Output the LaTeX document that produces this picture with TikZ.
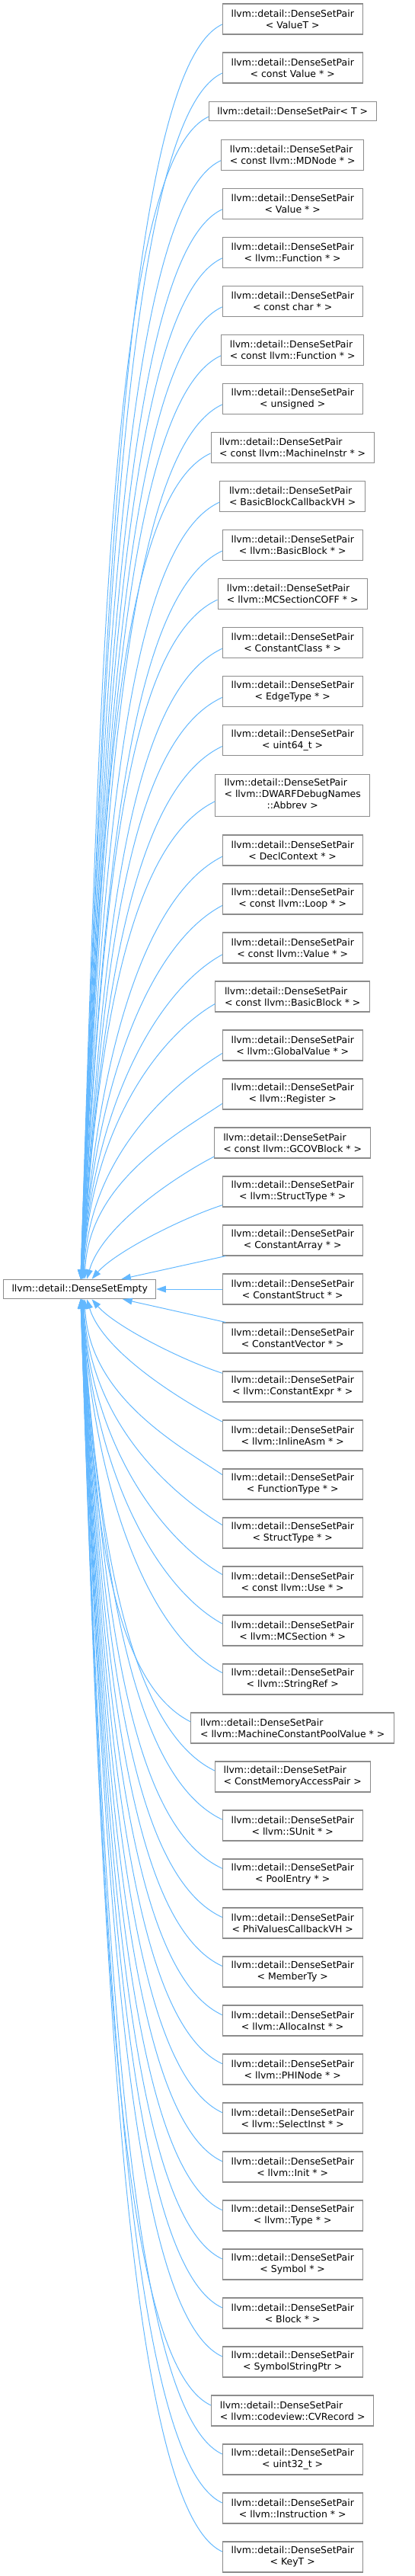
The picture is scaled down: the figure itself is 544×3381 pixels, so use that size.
\documentclass[tikz,border=0pt]{standalone}
\usepackage{fontspec}
\setmainfont{DejaVu Sans}
\usetikzlibrary{arrows.meta,calc}
\definecolor{edgeblue}{HTML}{63B8FF}
\definecolor{boxgray}{HTML}{8C8C8C}
\tikzset{
  box/.style={draw=boxgray, line width=1.1pt, fill=white, inner sep=0pt,
    minimum width=183.7pt, minimum height=40pt,
    font=\fontsize{12.47}{15}\selectfont},
  cls/.style={box, align=center},
  clsl/.style={box, align=left},
  edge/.style={draw=edgeblue, line width=1pt, -{Triangle[length=12.5pt,width=8.7pt]}},
}
\newcommand{\fanedge}[1]{%
  \pgfmathtruncatemacro{\dD}{abs(#1-27)}%
  \pgfmathtruncatemacro{\sG}{#1<27 ? 1 : -1}%
  \pgfmathsetmacro{\oF}{\dD==2 ? 17.7 : (\dD==3 ? 18 : 6.5+12/max(\dD-2,1))}%
  \pgfmathsetmacro{\xE}{101.3+40/(\dD^1.4)}%
  \pgfmathsetmacro{\wT}{min(1,max(0,(\dD-4)/8))}%
  \pgfmathsetmacro{\cA}{\dD==2 ? 55 : (\dD==3 ? 52 : 60+70*\wT)}%
  \pgfmathsetmacro{\cB}{\dD==2 ? 18 : (\dD==3 ? 27 : 40+20*\wT)}%
  \pgfmathsetmacro{\fX}{\dD==2 ? 0.825 : (\dD==3 ? 0.88 : 0.85+0.12*(1-\wT))}%
  \pgfmathsetmacro{\fY}{\dD==2 ? 0.64 : (\dD==3 ? 0.566 : 0.5-0.05*(1-\wT))}%
  \coordinate (s#1) at ($(n#1.west)+(0,\sG*\oF)$);%
  \ifnum\sG>0
    \coordinate (e#1) at ($(base.north west)+(\xE,0)$);%
  \else
    \coordinate (e#1) at ($(base.south west)+(\xE,0)$);%
  \fi
  \draw[edge] let \p1=(s#1), \p2=(e#1) in (s#1) .. controls ($(s#1)+(-\cA,\sG*\cB)$) and ({\x1-\fX*(\x1-\x2)},{\y1+\fY*(\y2-\y1)}) .. (e#1);%
}
\begin{document}
\begin{tikzpicture}[x=1pt,y=-1pt]
\useasboundingbox (0,0) rectangle (544,3381);
\node[box, minimum width=200pt, minimum height=25.4pt] (base) at (104.7,1692) {llvm::detail::DenseSetEmpty};
\node[cls] (n1) at (384.2,25) {llvm::detail::DenseSetPair\\< ValueT >};
\node[cls] (n2) at (384.2,89) {llvm::detail::DenseSetPair\\< const Value * >};
\node[cls, minimum width=219.7pt, minimum height=25pt] (n3) at (384.2,146.2) {llvm::detail::DenseSetPair< T >};
\node[clsl, minimum width=187.4pt] (n4) at (384.2,203.7) {llvm::detail::DenseSetPair\\< const llvm::MDNode * >};
\node[cls] (n5) at (384.2,267.7) {llvm::detail::DenseSetPair\\< Value * >};
\node[cls] (n6) at (384.2,331.7) {llvm::detail::DenseSetPair\\< llvm::Function * >};
\node[cls] (n7) at (384.2,395.7) {llvm::detail::DenseSetPair\\< const char * >};
\node[clsl, minimum width=187.4pt] (n8) at (384.2,459.7) {llvm::detail::DenseSetPair\\< const llvm::Function * >};
\node[cls] (n9) at (384.2,523.7) {llvm::detail::DenseSetPair\\< unsigned >};
\node[clsl, minimum width=214.3pt] (n10) at (384.2,587.7) {llvm::detail::DenseSetPair\\< const llvm::MachineInstr * >};
\node[clsl, minimum width=190.6pt] (n11) at (384.2,651.7) {llvm::detail::DenseSetPair\\< BasicBlockCallbackVH >};
\node[cls] (n12) at (384.2,715.7) {llvm::detail::DenseSetPair\\< llvm::BasicBlock * >};
\node[clsl, minimum width=196.3pt] (n13) at (384.2,779.7) {llvm::detail::DenseSetPair\\< llvm::MCSectionCOFF * >};
\node[cls] (n14) at (384.2,843.7) {llvm::detail::DenseSetPair\\< ConstantClass * >};
\node[cls] (n15) at (384.2,907.7) {llvm::detail::DenseSetPair\\< EdgeType * >};
\node[cls] (n16) at (384.2,971.7) {llvm::detail::DenseSetPair\\< uint64\_t >};
\node[box, minimum width=202.6pt, minimum height=54.7pt] (n17) at (384.2,1043.8) {\begin{tabular}{@{}l@{}}llvm::detail::DenseSetPair\\< llvm::DWARFDebugNames\\\multicolumn{1}{@{}c@{}}{::Abbrev >}\end{tabular}};
\node[cls] (n18) at (384.2,1116) {llvm::detail::DenseSetPair\\< DeclContext * >};
\node[cls] (n19) at (384.2,1180) {llvm::detail::DenseSetPair\\< const llvm::Loop * >};
\node[cls] (n20) at (384.2,1244) {llvm::detail::DenseSetPair\\< const llvm::Value * >};
\node[clsl, minimum width=202.6pt] (n21) at (384.2,1308) {llvm::detail::DenseSetPair\\< const llvm::BasicBlock * >};
\node[cls] (n22) at (384.2,1372) {llvm::detail::DenseSetPair\\< llvm::GlobalValue * >};
\node[cls] (n23) at (384.2,1436) {llvm::detail::DenseSetPair\\< llvm::Register >};
\node[clsl, minimum width=205pt] (n24) at (384.2,1500) {llvm::detail::DenseSetPair\\< const llvm::GCOVBlock * >};
\node[cls] (n25) at (384.2,1564) {llvm::detail::DenseSetPair\\< llvm::StructType * >};
\node[cls] (n26) at (384.2,1628) {llvm::detail::DenseSetPair\\< ConstantArray * >};
\node[cls] (n27) at (384.2,1692) {llvm::detail::DenseSetPair\\< ConstantStruct * >};
\node[cls] (n28) at (384.2,1756) {llvm::detail::DenseSetPair\\< ConstantVector * >};
\node[cls] (n29) at (384.2,1820) {llvm::detail::DenseSetPair\\< llvm::ConstantExpr * >};
\node[cls] (n30) at (384.2,1884) {llvm::detail::DenseSetPair\\< llvm::InlineAsm * >};
\node[cls] (n31) at (384.2,1948) {llvm::detail::DenseSetPair\\< FunctionType * >};
\node[cls] (n32) at (384.2,2012) {llvm::detail::DenseSetPair\\< StructType * >};
\node[cls] (n33) at (384.2,2076) {llvm::detail::DenseSetPair\\< const llvm::Use * >};
\node[cls] (n34) at (384.2,2140) {llvm::detail::DenseSetPair\\< llvm::MCSection * >};
\node[cls] (n35) at (384.2,2204) {llvm::detail::DenseSetPair\\< llvm::StringRef >};
\node[clsl, minimum width=267pt] (n36) at (384.2,2268) {llvm::detail::DenseSetPair\\< llvm::MachineConstantPoolValue * >};
\node[clsl, minimum width=203.7pt] (n37) at (384.2,2332) {llvm::detail::DenseSetPair\\< ConstMemoryAccessPair >};
\node[cls] (n38) at (384.2,2396) {llvm::detail::DenseSetPair\\< llvm::SUnit * >};
\node[cls] (n39) at (384.2,2460) {llvm::detail::DenseSetPair\\< PoolEntry * >};
\node[cls] (n40) at (384.2,2524) {llvm::detail::DenseSetPair\\< PhiValuesCallbackVH >};
\node[cls] (n41) at (384.2,2588) {llvm::detail::DenseSetPair\\< MemberTy >};
\node[cls] (n42) at (384.2,2652) {llvm::detail::DenseSetPair\\< llvm::AllocaInst * >};
\node[cls] (n43) at (384.2,2716) {llvm::detail::DenseSetPair\\< llvm::PHINode * >};
\node[cls] (n44) at (384.2,2780) {llvm::detail::DenseSetPair\\< llvm::SelectInst * >};
\node[cls] (n45) at (384.2,2844) {llvm::detail::DenseSetPair\\< llvm::Init * >};
\node[cls] (n46) at (384.2,2908) {llvm::detail::DenseSetPair\\< llvm::Type * >};
\node[cls] (n47) at (384.2,2972) {llvm::detail::DenseSetPair\\< Symbol * >};
\node[cls] (n48) at (384.2,3036) {llvm::detail::DenseSetPair\\< Block * >};
\node[cls] (n49) at (384.2,3100) {llvm::detail::DenseSetPair\\< SymbolStringPtr >};
\node[clsl, minimum width=213.3pt] (n50) at (384.2,3164) {llvm::detail::DenseSetPair\\< llvm::codeview::CVRecord >};
\node[cls] (n51) at (384.2,3228) {llvm::detail::DenseSetPair\\< uint32\_t >};
\node[cls] (n52) at (384.2,3292) {llvm::detail::DenseSetPair\\< llvm::Instruction * >};
\node[cls] (n53) at (384.2,3356) {llvm::detail::DenseSetPair\\< KeyT >};
% connectors
\foreach \k in {1,...,25} {\fanedge{\k}}
\foreach \k in {29,...,53} {\fanedge{\k}}
\coordinate (s26) at ($(n26.south west)+(4.4,0)$);
\coordinate (e26) at ($(base.north west)+(155.3,0)$);
\draw[edge] (s26) -- (e26);
\coordinate (s28) at ($(n28.north west)+(4.4,0)$);
\coordinate (e28) at ($(base.south west)+(157,0)$);
\draw[edge] (s28) -- (e28);
\draw[edge] (n27.west) -- (base.east);
\end{tikzpicture}
\end{document}
